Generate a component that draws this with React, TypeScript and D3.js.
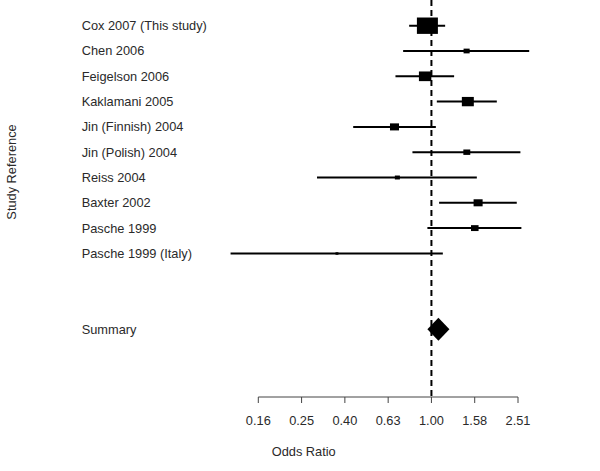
import React from "react";
import * as d3 from "d3";

const studies = [
  "Cox 2007 (This study)",
  "Chen 2006",
  "Feigelson 2006",
  "Kaklamani 2005",
  "Jin (Finnish) 2004",
  "Jin (Polish) 2004",
  "Reiss 2004",
  "Baxter 2002",
  "Pasche 1999",
  "Pasche 1999 (Italy)",
];
const oddsRatio = [0.958, 1.454, 0.935, 1.473, 0.675, 1.457, 0.696, 1.643, 1.586, 0.366];
const lowerCI = [0.789, 0.74, 0.682, 1.059, 0.435, 0.817, 0.296, 1.085, 0.958, 0.118];
const upperCI = [1.157, 2.83, 1.273, 2.005, 1.048, 2.577, 1.621, 2.479, 2.604, 1.129];
const boxWeights = [1.0, 0.29, 0.59, 0.57, 0.43, 0.33, 0.24, 0.43, 0.36, 0.14];

const summaryLabel = "Summary";
const summaryOR = 1.077;
const summaryLower = 0.958;
const summaryUpper = 1.211;

const tickValues = [0.1585, 0.2512, 0.3981, 0.631, 1, 1.5849, 2.512];
const xTitle = "Odds Ratio";
const yTitle = "Study Reference";

export default function App() {
  const W = 600;
  const H = 471;
  const font = "'Liberation Sans', Arial, sans-serif";
  const textColor = "#2a2a2a";
  const fs = 12.8;

  const x = d3.scaleLog().domain([Math.pow(10, -0.8), Math.pow(10, 0.4)]).range([258.3, 518]);
  const y = d3.scaleLinear().domain([0, 12]).range([25.7, 329.3]);
  const box = d3.scaleLinear().domain([0, 1]).range([0, 21]);
  const axisY = 397;

  const summaryRow = 12;
  const sy = y(summaryRow);
  const diamond = [
    [x(summaryLower), sy],
    [x(summaryOR), sy - 11.5],
    [x(summaryUpper), sy],
    [x(summaryOR), sy + 11.5],
  ];
  const diamondPath = d3.line()(diamond as [number, number][]) + "Z";

  return (
    <svg
      width={W}
      height={H}
      style={{ position: "absolute", left: 0, top: 0, background: "#fff" }}
      fontFamily={font}
    >
      <rect x={0} y={0} width={W} height={H} fill="#fff" />
      <line
        x1={x(1)}
        x2={x(1)}
        y1={0}
        y2={axisY}
        stroke="#000"
        strokeWidth={2}
        strokeDasharray="6,4"
      />
      {studies.map((s, i) => {
        const cy = y(i);
        const bw = box(boxWeights[i]);
        const bh = bw * 0.78;
        return (
          <g key={s}>
            <text x={81.7} y={cy} dy="0.35em" fontSize={fs} fill={textColor}>
              {s}
            </text>
            <line x1={x(lowerCI[i])} x2={x(upperCI[i])} y1={cy} y2={cy} stroke="#000" strokeWidth={2} />
            <rect x={x(oddsRatio[i]) - bw / 2} y={cy - bh / 2} width={bw} height={Math.max(bh, 2.5)} fill="#000" />
          </g>
        );
      })}
      <text x={81.7} y={sy} dy="0.35em" fontSize={fs} fill={textColor}>
        {summaryLabel}
      </text>
      <path d={diamondPath} fill="#000" />
      <line x1={x(tickValues[0])} x2={x(tickValues[tickValues.length - 1])} y1={axisY} y2={axisY} stroke="#444" strokeWidth={1} />
      {tickValues.map((t) => (
        <g key={t}>
          <line x1={x(t)} x2={x(t)} y1={axisY} y2={axisY + 6} stroke="#444" strokeWidth={1} />
          <text x={x(t)} y={420.7} dy="0.35em" textAnchor="middle" fontSize={fs} fill={textColor}>
            {t.toFixed(2)}
          </text>
        </g>
      ))}
      <text x={271.7} y={451.7} dy="0.35em" fontSize={fs} fill={textColor}>
        {xTitle}
      </text>
      <text
        transform={`translate(12,172) rotate(-90)`}
        textAnchor="middle"
        dy="0.35em"
        fontSize={fs}
        fill={textColor}
      >
        {yTitle}
      </text>
    </svg>
  );
}
